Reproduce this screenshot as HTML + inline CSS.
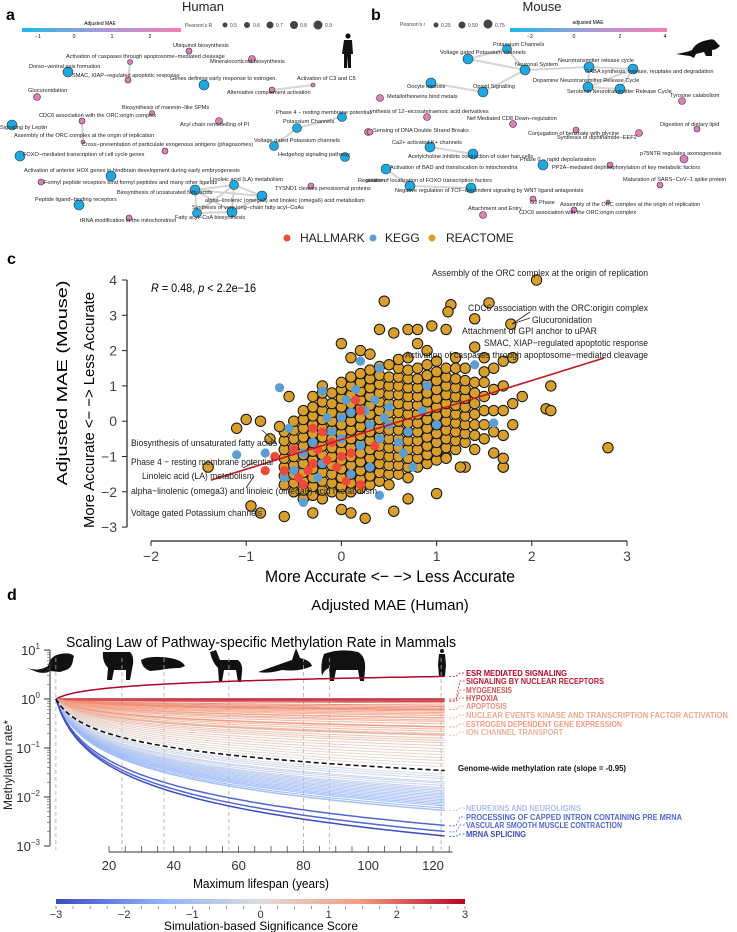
<!DOCTYPE html>
<html><head><meta charset="utf-8">
<style>
body{margin:0;background:#fff;}
svg{display:block;font-family:"Liberation Sans",sans-serif;}
.n{font-family:"Liberation Sans Narrow","Liberation Sans",sans-serif;}
</style></head>
<body>
<svg id="fig" width="737" height="932" viewBox="0 0 737 932">
<defs>
<linearGradient id="gA" x1="0" x2="1"><stop offset="0" stop-color="#1fb8ea"/><stop offset="0.5" stop-color="#a79bd6"/><stop offset="1" stop-color="#f47fb3"/></linearGradient>
<linearGradient id="gD" x1="0" x2="1"><stop offset="0" stop-color="#3b4cc0"/><stop offset="0.25" stop-color="#8db0fe"/><stop offset="0.5" stop-color="#dddddd"/><stop offset="0.75" stop-color="#f49a7b"/><stop offset="1" stop-color="#b40426"/></linearGradient>
</defs>
<g id="pa">
<text x="6" y="20" font-size="16" font-weight="bold">a</text>
<text x="203" y="11" font-size="13" text-anchor="middle" fill="#222">Human</text>
<text x="100" y="25" font-size="5" text-anchor="middle">Adjusted MAE</text>
<rect x="22" y="28" width="159" height="4" fill="url(#gA)"/>
<g font-size="5" text-anchor="middle"><text x="38" y="38">−1</text><text x="74" y="38">0</text><text x="112" y="38">1</text><text x="150" y="38">2</text></g>
<g font-size="5" fill="#444">
<text x="185" y="27">Pearson's R</text>
<circle cx="225" cy="25" r="2.5"/><text x="230" y="27">0.5</text>
<circle cx="247" cy="25" r="3"/><text x="253" y="27">0.6</text>
<circle cx="270" cy="25" r="3.5"/><text x="276" y="27">0.7</text>
<circle cx="294" cy="25" r="4"/><text x="300" y="27">0.8</text>
<circle cx="318" cy="25" r="4.5"/><text x="325" y="27">0.9</text>
</g>
<g fill="#111">
<circle cx="348" cy="36" r="2.6"/><path d="M344 40 L352 40 L353 54 L351 54 L351 68 L348 68 L348 56 L347 68 L344 68 L344 54 L342 54 Z"/>
</g>
<g id="netA"></g>
</g>
<g id="pb">
<text x="371" y="20" font-size="16" font-weight="bold">b</text>
<text x="542" y="11" font-size="13" text-anchor="middle" fill="#222">Mouse</text>
<text x="588" y="24" font-size="5" text-anchor="middle">adjusted MAE</text>
<rect x="510" y="28" width="157" height="4" fill="url(#gA)"/>
<g font-size="5" text-anchor="middle"><text x="530" y="38">−2</text><text x="574" y="38">0</text><text x="620" y="38">2</text><text x="665" y="38">4</text></g>
<g font-size="5" fill="#444">
<text x="400" y="26">Pearson's r</text>
<circle cx="436" cy="25" r="2.5"/><text x="441" y="27">0.25</text>
<circle cx="462" cy="25" r="3.5"/><text x="468" y="27">0.50</text>
<circle cx="488" cy="24" r="4.5"/><text x="495" y="27">0.75</text>
</g>
<g fill="#111">
<path d="M676 54 Q688 52 692 50 Q696 42 708 40 Q714 38 716 42 L720 46 Q716 50 712 50 L712 56 L706 56 L704 52 L696 54 L694 58 L690 56 Q682 55 676 54 Z"/>
</g>
<g id="netB"></g>
</g>
<g font-size="12" fill="#222">
<circle cx="287" cy="238" r="3.5" fill="#f0493a"/><text x="300" y="242">HALLMARK</text>
<circle cx="373" cy="238" r="3.5" fill="#5e9dd0"/><text x="385" y="242">KEGG</text>
<circle cx="432" cy="238" r="3.5" fill="#dba030"/><text x="446" y="242">REACTOME</text>
</g>
<g id="pc">
<text x="7" y="264" font-size="16" font-weight="bold">c</text>
<g id="cAxes"></g>
<g id="cPts"></g>
<g id="cAnn"></g>
</g>
<g id="pd">
<text x="7" y="600" font-size="16" font-weight="bold">d</text>
<text x="390" y="610" font-size="15" text-anchor="middle">Adjusted MAE (Human)</text>
<text x="66" y="647" font-size="15" textLength="390" lengthAdjust="spacingAndGlyphs">Scaling Law of Pathway-specific Methylation Rate in Mammals</text>
<g fill="#111">
<path d="M28 668 Q38 672 48 666 Q50 656 60 654 Q70 652 74 656 L73 660 Q72 668 66 670 L60 672 L50 671 Q42 676 28 668 Z"/>
<path d="M103 652 L130 652 Q134 656 133 664 L130 680 L126 680 L126 670 L114 670 L112 680 L107 680 L108 668 Q102 662 103 652 Z"/>
<path d="M141 660 Q150 655 170 658 Q182 660 185 666 L180 668 Q170 668 160 670 L150 671 Q142 668 141 660 Z"/>
<path d="M210 652 L216 650 L220 660 L238 660 Q243 664 242 672 L241 682 L238 682 L236 670 L224 670 L222 682 L219 682 L218 668 Q212 662 210 652 Z"/>
<path d="M258 672 Q280 664 292 660 L296 648 L300 658 Q310 660 312 666 Q300 672 282 670 Q268 674 258 672 Z"/>
<path d="M324 654 Q340 648 358 652 Q366 656 365 670 L364 681 L360 681 L358 670 L336 670 L334 681 L330 681 L329 668 Q324 670 322 676 Q320 664 324 654 Z"/>
<circle cx="442" cy="651" r="2"/><path d="M439 654 L445 654 L446 665 L445 676 L439 676 L438 665 Z"/>
</g>
<g id="dAxes"></g>
<g id="dLines"></g>
<g id="dLabels"></g>
<rect x="56" y="899" width="409" height="5" fill="url(#gD)"/>
<g id="cbTicks"></g>
<text x="261" y="930" font-size="12" text-anchor="middle" textLength="194" lengthAdjust="spacingAndGlyphs">Simulation-based Significance Score</text>
</g>
</svg>
<script>
const NS="http://www.w3.org/2000/svg";
function mk(parent,tag,attrs,text){const e=document.createElementNS(NS,tag);for(const k in attrs)e.setAttribute(k,attrs[k]);if(text!==undefined)e.textContent=text;parent.appendChild(e);return e;}
const PINK="#e07fb5",BLUE="#1fa9e3";

const aNames=["Ubiquinol biosynthesis","Activation of caspases through apoptosome−mediated cleavage","Mineralocorticoid biosynthesis","Dorso−ventral axis formation","SMAC, XIAP−regulated apoptotic response","Genes defining early response to estrogen.","Activation of C3 and C5","Alternative complement activation","Glucuronidation","Biosynthesis of maresin−like SPMs","CDC6 association with the ORC:origin complex","Acyl chain remodelling of PI","Phase 4 − resting membrane potential","Signaling by Leptin","Potassium Channels","Assembly of the ORC complex at the origin of replication","Cross−presentation of particulate exogenous antigens (phagosomes)","Voltage gated Potassium channels","Hedgehog signaling pathway","FOXO−mediated transcription of cell cycle genes","Activation of anterior HOX genes in hindbrain development during early embryogenesis","Formyl peptide receptors bind formyl peptides and many other ligands","Linoleic acid (LA) metabolism","TYSND1 cleaves peroxisomal proteins","Biosynthesis of unsaturated fatty acids","alpha−linolenic (omega3) and linoleic (omega6) acid metabolism","Peptide ligand−binding receptors","Synthesis of very long−chain fatty acyl−CoAs","Fatty acyl−CoA biosynthesis","tRNA modification in the mitochondrion","Regulation"];
const aNodeX=[189,130,252,68,128,204,313,272,37,152,82,219,342,12,297,83,165,274,345,20,111,41,234,311,195,262,79,232,197,129,368];
const aNodeY=[51,62,59,72,80,85,85,90,97,113,121,121,117,125,128,142,151,146,157,156,176,182,185,186,190,196,205,212,213,218,132];
const aNodeR=[3,2.5,3.5,5,3,5,2,3,3.5,2.5,3,3.5,4.5,5,4.5,2,3,4.5,4.5,5,5,3,4.5,3,5,5,5,5,4.5,3,3.5];
const aNodeMAE=[2,2,2,-1,2,-1,2,2,2,2,2,2,-1,-1,-1,2,2,-1,-1,-1,-1,2,-1,2,-1,-1,-1,-1,-1,2,2];
const aLabX=[173,66,210,29,72,170,297,227,28,122,39,180,276,0,283,14,82,254,278,23,24,44,210,275,117,205,35,192,175,80,358];
const aLabY=[47,58,63,68,77,80,80,94,92,109,117,126,114,129,123,137,146,142,156,156,172,184,181,190,194,202,201,209,219,222,182];
const aEdges=[[1,4],[10,15],[7,6],[14,17],[14,12],[24,22],[24,25],[24,27],[24,28],[22,25],[22,27],[25,27],[27,28],[22,28]];

const bNames=["Potassium Channels","Voltage gated Potassium channels","Neuronal System","Neurotransmitter release cycle","GABA synthesis, release, reuptake and degradation","Oocyte meiosis","Opioid Signalling","Dopamine Neurotransmitter Release Cycle","Serotonin Neurotransmitter Release Cycle","Tyrosine catabolism","Metallothioneins bind metals","ynthesis of 12−eicosatetraenoic acid derivatives","Nef Mediated CD8 Down−regulation","Sensing of DNA Double Strand Breaks","Conjugation of benzoate with glycine","Synthesis of diphthamide−EEF2","Digestion of dietary lipid","Ca2+ activated K+ channels","Acetylcholine inhibits contraction of outer hair cells","Phase 0 − rapid depolarisation","p75NTR regulates axonogenesis","PP2A−mediated dephosphorylation of key metabolic factors","Activation of BAD and translocation to mitochondria","Maturation of SARS−CoV−1 spike protein","ulation of localization of FOXO transcription factors","Negative regulation of TCF−dependent signaling by WNT ligand antagonists","G2 Phase","Assembly of the ORC complex at the origin of replication","CDC6 association with the ORC:origin complex","Attachment and Entry","TCF node"];
const bNodeX=[507,468,525,589,633,431,483,588,620,682,380,427,513,370,576,639,697,430,473,543,684,610,386,660,0,471,533,608,574,483,410];
const bNodeY=[49,59,70,67,69,83,92,87,89,101,98,117,124,132,130,133,129,147,154,165,159,165,169,185,0,188,199,202,210,215,186];
const bNodeR=[4.5,5,5,5,5,5,5,5,5,3.5,3.5,3.5,3.5,3,3,3.5,3,5,5,5,4,3,5,3,0,5,3,2,3,3.5,5];
const bNodeMAE=[-2,-2,-2,-2,-2,-2,-2,-2,-2,3,3,3,3,3,3,3,3,-2,-2,-2,3,3,-2,3,0,-2,3,3,3,3,-2];
const bLabX=[493,440,515,558,585,407,473,533,567,670,387,370,467,373,528,557,660,392,408,520,640,552,390,623,366,395,530,560,519,468,-99];
const bLabY=[46,54,66,62,73,88,88,82,93,97,98,113,120,132,135,139,126,144,158,161,155,169,169,181,182,192,204,206,214,210,0];
const bEdges=[[0,1],[1,2],[0,2],[2,6],[6,5],[2,3],[3,4],[3,7],[7,8],[8,4],[7,4],[17,18],[22,30],[30,25]];

function drawNet(gid,prefix,names,nx,ny,nr,mae,lx,ly,edges){
  const g=document.getElementById(gid);
  edges.forEach(e=>{const l=mk(g,"line",{x1:nx[e[0]],y1:ny[e[0]],x2:nx[e[1]],y2:ny[e[1]],stroke:"#d4d4d4","stroke-width":2});
    
    });
  names.forEach((n,i)=>{ if(nr[i]>0){const c=mk(g,"circle",{cx:nx[i],cy:ny[i],r:nr[i],fill:mae[i]<0?BLUE:PINK,stroke:"#333","stroke-width":0.6});
    
    }});
  names.forEach((n,i)=>{ if(lx[i]>-50){const t=mk(g,"text",{x:lx[i],y:ly[i],"font-size":5.6,fill:"#222"},n);
    
    }});
}
drawNet("netA","human-network",aNames,aNodeX,aNodeY,aNodeR,aNodeMAE,aLabX,aLabY,aEdges);
drawNet("netB","mouse-network",bNames,bNodeX,bNodeY,bNodeR,bNodeMAE,bLabX,bLabY,bEdges);

// ---------- panel c scatter ----------
const xTicks=[-2,-1,0,1,2,3];
const yTicks=[-3,-2,-1,0,1,2,3,4];
const reactCols=[-0.6,-0.5,-0.4,-0.3,-0.2,-0.1,0.0,0.1,0.2,0.3,0.4,0.5,0.6,0.7,0.8,0.9,1.0,1.1,1.2,1.3,1.4,1.5,1.6,1.7,1.8];
const reactColY=[
[-1.8,-1.55,-1.3,-1.05,-0.8,-0.55,-0.3],
[-2.0,-1.75,-1.5,-1.25,-1.0,-0.75,-0.5,-0.25,0.0],
[-2.2,-1.95,-1.7,-1.45,-1.2,-0.95,-0.7,-0.45,-0.2,0.05,0.3],
[-2.1,-1.85,-1.6,-1.35,-1.1,-0.85,-0.6,-0.35,-0.1,0.15,0.4,0.7],
[-2.2,-1.95,-1.7,-1.45,-1.2,-0.95,-0.7,-0.45,-0.2,0.05,0.3,0.55,0.8,1.0],
[-2.0,-1.75,-1.5,-1.25,-1.0,-0.75,-0.5,-0.25,0.0,0.25,0.5,0.8],
[-2.1,-1.85,-1.6,-1.35,-1.1,-0.85,-0.6,-0.35,-0.1,0.15,0.4,0.65,0.9,1.1,2.2],
[-2.0,-1.75,-1.5,-1.25,-1.0,-0.75,-0.5,-0.25,0.0,0.25,0.5,0.75,1.0,1.25,1.8],
[-1.9,-1.65,-1.4,-1.15,-0.9,-0.65,-0.4,-0.15,0.1,0.35,0.6,0.85,1.1,1.35,2.0],
[-1.8,-1.55,-1.3,-1.05,-0.8,-0.55,-0.3,-0.05,0.2,0.45,0.7,0.95,1.2,1.45,1.9],
[-1.7,-1.45,-1.2,-0.95,-0.7,-0.45,-0.2,0.05,0.3,0.55,0.8,1.05,1.3,1.55],
[-1.8,-1.5,-1.25,-1.0,-0.75,-0.5,-0.25,0.0,0.25,0.5,0.75,1.0,1.25,1.6],
[-1.5,-1.25,-1.0,-0.75,-0.5,-0.25,0.0,0.25,0.5,0.75,1.0,1.25,1.5,1.75],
[-1.6,-1.3,-1.05,-0.8,-0.55,-0.3,-0.05,0.2,0.45,0.7,0.95,1.2,1.45,1.8,2.6],
[-1.3,-1.05,-0.8,-0.55,-0.3,-0.05,0.2,0.45,0.7,0.95,1.2,1.5,2.2],
[-1.2,-0.95,-0.7,-0.45,-0.2,0.05,0.3,0.55,0.8,1.05,1.3,1.6,2.0],
[-1.1,-0.85,-0.6,-0.35,-0.1,0.15,0.4,0.65,0.9,1.15,1.4,1.7],
[-1.0,-0.75,-0.5,-0.25,0.0,0.25,0.5,0.75,1.0,1.25,1.5,2.6],
[-0.8,-0.55,-0.3,-0.05,0.2,0.45,0.7,0.95,1.2,1.5,1.8],
[-1.3,-0.6,-0.35,-0.1,0.15,0.4,0.65,0.9,1.15,1.5],
[-0.8,-0.4,-0.1,0.2,0.5,0.8,1.1,2.1],
[-0.5,-0.1,0.3,0.7,1.1,1.4,1.8],
[-0.9,-0.3,0.3,0.9,1.5],
[-1.3,-0.4,0.3,1.0,1.7],
[-0.1,0.5,1.8]];
const reactOutX=[-1.1,-1.0,-0.85,-0.65,-1.4,-0.95,-0.6,-0.85,0.45,1.15,1.55,2.05,1.4,1.78,0.4,0.55,0.8,2.2,1.9,2.15,2.2,2.8,0.1,0.25,0.55,0.0,1.0,0.7,-0.3,1.7,1.7,1.1,1.25,1.12,0.95,-0.55,-0.75];
const reactOutY=[-0.2,0.05,0.0,-0.15,-1.3,-2.4,-2.7,-2.6,3.4,3.3,3.35,4.0,2.9,2.75,2.6,2.5,2.6,1.0,0.7,0.35,0.3,-0.75,-2.6,-2.75,-2.55,-2.5,-2.05,-2.2,-2.6,-1.3,-1.05,-1.05,-1.3,3.1,2.7,0.7,-0.5];
const keggX=[-1.1,-0.8,-0.65,0.2,0.9,-0.2,0.35,0.5,0.25,0.1,-0.1,0.0,-0.3,-0.4,0.2,0.4,0.6,0.7,-0.5,-0.2,0.1,0.3,-0.4,0.4,0.75,1.0,1.6,1.4,0.15,0.4,-0.6,0.0,0.5,-0.15,0.3,0.85,-0.55,0.05,0.45,0.65,-0.25];
const keggY=[-0.95,-0.9,0.95,1.7,1.0,0.85,0.6,0.4,0.3,0.25,-0.3,-0.5,-0.6,-0.9,-0.7,-0.5,-0.6,-0.3,-1.4,-1.2,-1.5,-1.3,-2.3,-2.1,-1.3,-0.1,-0.05,1.6,0.9,1.5,-1.6,0.1,-0.1,0.1,-0.1,0.3,-0.2,0.6,0.1,-0.9,-1.6];
const hallX=[-0.5,-0.3,-0.35,-0.2,-0.1,0.0,0.15,0.2,-0.05,-0.45,-0.6,-0.3,0.1,-0.15,-0.25,0.05,-0.4,0.2,-0.8,0.35,-0.7];
const hallY=[-0.8,-1.2,-1.4,-0.3,-0.6,-1.0,0.6,0.3,-1.3,-1.6,-1.4,-0.2,-0.9,-1.1,-0.8,-1.7,-1.8,-1.8,-1.4,-0.7,-1.0];
const fitX=[-1.37,2.76];
const fitY=[-1.67,1.79];

const cx=v=>151+(v+2)*95.2;
const cy=v=>280+(4-v)*35.3;
(function(){
 const g=document.getElementById("cAxes");
 const ya=mk(g,"line",{x1:127,y1:cy(4),x2:127,y2:cy(-3),stroke:"#222","stroke-width":1.2});
 
 
 yTicks.forEach(t=>{mk(g,"line",{x1:122,y1:cy(t),x2:127,y2:cy(t),stroke:"#222"});
   const tx=mk(g,"text",{x:117,y:cy(t)+5,"font-size":14,"text-anchor":"end",fill:"#444"},t<0?"−"+(-t):String(t));
   
   });
 const xa=mk(g,"line",{x1:cx(-2),y1:541,x2:cx(3),y2:541,stroke:"#222","stroke-width":1.2});
 
 
 xTicks.forEach(t=>{mk(g,"line",{x1:cx(t),y1:541,x2:cx(t),y2:546,stroke:"#222"});
   const tx=mk(g,"text",{x:cx(t),y:561,"font-size":14,"text-anchor":"middle",fill:"#444"},t<0?"−"+(-t):String(t));
   
   });
 const xt=mk(g,"text",{x:390,y:582,"font-size":17,"text-anchor":"middle",textLength:250,lengthAdjust:"spacingAndGlyphs"},"More Accurate <− −> Less Accurate");
 
 
 const yt1=mk(g,"text",{x:0,y:0,"font-size":15,"text-anchor":"middle",transform:"translate(67,383) rotate(-90)",textLength:205,lengthAdjust:"spacingAndGlyphs"},"Adjusted MAE (Mouse)");
 
 
 const yt2=mk(g,"text",{x:0,y:0,"font-size":15,"text-anchor":"middle",transform:"translate(94,410) rotate(-90)",textLength:236,lengthAdjust:"spacingAndGlyphs"},"More Accurate <− −> Less Accurate");
 
 
 const rt=mk(g,"text",{x:151,y:292,"font-size":12,textLength:105,lengthAdjust:"spacingAndGlyphs"});
 rt.innerHTML='<tspan font-style="italic">R</tspan> = 0.48, <tspan font-style="italic">p</tspan> &lt; 2.2e−16';
 
 
 const p=document.getElementById("cPts");
 reactCols.forEach((x,i)=>reactColY[i].forEach(y=>{const c=mk(p,"circle",{cx:cx(x),cy:cy(y),r:5.2,fill:"#d99f2c",stroke:"#111","stroke-width":1});
   
   }));
 reactOutX.forEach((x,i)=>{const c=mk(p,"circle",{cx:cx(x),cy:cy(reactOutY[i]),r:5.2,fill:"#d99f2c",stroke:"#111","stroke-width":1});
   
   });
 keggX.forEach((x,i)=>{const c=mk(p,"circle",{cx:cx(x),cy:cy(keggY[i]),r:4.6,fill:"#5e9dd0"});
   
   });
 hallX.forEach((x,i)=>{const c=mk(p,"circle",{cx:cx(x),cy:cy(hallY[i]),r:4.6,fill:"#f0493a"});
   
   });
 const fl=mk(p,"line",{x1:cx(fitX[0]),y1:cy(fitY[0]),x2:cx(fitX[1]),y2:cy(fitY[1]),stroke:"#c4161c","stroke-width":1.6});
 
 
})();
const annText=["Assembly of the ORC complex at the origin of replication","CDC6 association with the ORC:origin complex","Glucuronidation","Attachment of GPI anchor to uPAR","SMAC, XIAP−regulated apoptotic response","Activation of caspases through apoptosome−mediated cleavage","Biosynthesis of unsaturated fatty acids","Phase 4 − resting membrane potential","Linoleic acid (LA) metabolism","alpha−linolenic (omega3) and linoleic (omega6) acid metabolism","Voltage gated Potassium channels"];
const annX=[432,468,532,462,484,405,131,131,142,131,131];
const annY=[276,311,323,334,346,358,446,465,479,494,516];
const annW=[216,180,60,135,164,243,146,142,112,246,131];
(function(){
 const g=document.getElementById("cAnn");
 annText.forEach((t,i)=>{const e=mk(g,"text",{x:annX[i],y:annY[i],"font-size":9.5,fill:"#222",textLength:annW[i],lengthAdjust:"spacingAndGlyphs"},t);
  
  });
 [[512,324,530,312],[512,324,530,318],[277,444,262,430],[255,462,243,468],[254,476,246,488]].forEach(s=>{
  const l=mk(g,"line",{x1:s[0],y1:s[1],x2:s[2],y2:s[3],stroke:"#222","stroke-width":0.8});
  
  });
})();

// ---------- panel d ----------
const decadeTicks=[1,0,-1,-2,-3];
const lifeTicks=[20,40,60,80,100,120];
const speciesLifespans=[3.6,24,37,57,80,88,122.5];
const lineSlopes=[-0.05,-0.08,-0.1,-0.12,-0.16,-0.18,-0.2,-0.22,-0.28,-0.3,-0.33,-0.4,-0.43,-0.46,-0.52,-0.55,-0.58,-0.62,-0.66,-0.7,-0.74,-0.78,-0.82,-0.86,-0.9,-1.0,-1.03,-1.06,-1.1,-1.12,-1.15,-1.18,-1.2,-1.22,-1.24,-1.26,-1.28,-1.3,-1.32,-1.34,-1.36,-1.38,-1.4,-1.42,-1.45];
const lineScores=[1.9,1.8,1.75,1.7,1.6,1.5,1.45,1.4,1.3,1.2,1.15,1.0,0.95,0.9,0.8,0.75,0.7,0.6,0.5,0.45,0.4,0.3,0.25,0.2,0.1,-0.3,-0.35,-0.4,-0.5,-0.55,-0.6,-0.7,-0.75,-0.8,-0.85,-0.9,-0.95,-1.0,-1.05,-1.1,-1.15,-1.2,-1.3,-1.4,-1.6];
const namedLabels=["ESR MEDIATED SIGNALING","SIGNALING BY NUCLEAR RECEPTORS","MYOGENESIS","HYPOXIA","APOPTOSIS","NUCLEAR EVENTS KINASE AND TRANSCRIPTION FACTOR ACTIVATION","ESTROGEN DEPENDENT GENE EXPRESSION","ION CHANNEL TRANSPORT","NEUREXINS AND NEUROLIGINS","PROCESSING OF CAPPED INTRON CONTAINING PRE MRNA","VASCULAR SMOOTH MUSCLE CONTRACTION","MRNA SPLICING"];
const namedSlopes=[0.30,0.0,-0.02,-0.03,-0.14,-0.25,-0.37,-0.48,-1.48,-1.68,-1.76,-1.82];
const namedScores=[3,2.8,2.2,2.3,1.6,1.2,1.5,1.0,-1.0,-2.6,-2.6,-3];
const genomeSlope=-0.95;
const L0=3.6, Lmax=125;
const dx=L=>109+(L-20)*3.24;
const dy=lg=>699-lg*49;
function scoreColor(s){
 const stops=[[-3,[59,76,192]],[-1.5,[141,176,254]],[0,[221,221,221]],[1.5,[244,154,123]],[3,[180,4,38]]];
 s=Math.max(-3,Math.min(3,s));
 for(let i=0;i<4;i++){const a=stops[i],b=stops[i+1];if(s<=b[0]){const t=(s-a[0])/(b[0]-a[0]);return "rgb("+a[1].map((v,k)=>Math.round(v+(b[1][k]-v)*t)).join(",")+")";}}
 return "rgb(180,4,38)";}
function curve(s){let d="";for(let L=L0;L<=Lmax+0.01;L+=1.5){const lg=s*Math.log10(L/L0);d+=(d?"L":"M")+dx(L).toFixed(1)+" "+dy(lg).toFixed(1);}return d;}
(function(){
 const g=document.getElementById("dAxes");
 const ya=mk(g,"line",{x1:50,y1:dy(1),x2:50,y2:dy(-3),stroke:"#333"});
 
 
 decadeTicks.forEach(k=>{mk(g,"line",{x1:44,y1:dy(k),x2:50,y2:dy(k),stroke:"#333"});
  if(k>-3){for(let m=2;m<10;m++){const yy=dy(k-1+Math.log10(m));mk(g,"line",{x1:47,y1:yy,x2:50,y2:yy,stroke:"#555","stroke-width":0.6});}}
  const t=mk(g,"text",{x:40,y:dy(k)+5,"font-size":13,"text-anchor":"end",fill:"#333"});
  t.innerHTML='10<tspan dy="-6" font-size="8">'+(k<0?"−"+(-k):k)+'</tspan>';
  
  });
 const yt=mk(g,"text",{x:0,y:0,"font-size":12,"text-anchor":"middle",transform:"translate(12,765) rotate(-90)",fill:"#222"},"Methylation rate*");
 
 
 const xa=mk(g,"line",{x1:dx(20),y1:852,x2:dx(126),y2:852,stroke:"#333"});
 
 
 for(let L=20;L<=125;L+=5){mk(g,"line",{x1:dx(L),y1:846,x2:dx(L),y2:852,stroke:"#333","stroke-width":0.7});}
 lifeTicks.forEach(L=>{const t=mk(g,"text",{x:dx(L),y:870,"font-size":13,"text-anchor":"middle",fill:"#333"},String(L));
  
  });
 const xt=mk(g,"text",{x:261,y:888,"font-size":13,"text-anchor":"middle",textLength:136,lengthAdjust:"spacingAndGlyphs"},"Maximum lifespan (years)");
 
 
 speciesLifespans.forEach(L=>{const l=mk(g,"line",{x1:dx(L),y1:658,x2:dx(L),y2:850,stroke:"#aaa","stroke-width":0.8,"stroke-dasharray":"4 3"});
  
  });
 const cb=document.getElementById("cbTicks");
 for(let s=-3;s<=3.001;s+=0.25){const x=56+(s+3)/6*409;mk(cb,"line",{x1:x,y1:906,x2:x,y2:909,stroke:"#555","stroke-width":0.6});}
 for(let s=-3;s<=3;s++){const t=mk(cb,"text",{x:56+(s+3)/6*409,y:918,"font-size":11,"text-anchor":"middle",fill:"#333"},s<0?"−"+(-s):String(s));
  
  }

 const lg=document.getElementById("dLines");
 lineSlopes.forEach((s,i)=>{const p=mk(lg,"path",{d:curve(s),fill:"none",stroke:scoreColor(lineScores[i]),"stroke-width":1,opacity:0.85});
  
  });
 namedSlopes.forEach((s,i)=>{const p=mk(lg,"path",{d:curve(s),fill:"none",stroke:scoreColor(namedScores[i]),"stroke-width":1.5});
  
  });
 const gw=mk(lg,"path",{d:curve(genomeSlope),fill:"none",stroke:"#111","stroke-width":1.6,"stroke-dasharray":"5 3"});
 
 

 const lb=document.getElementById("dLabels");
 const labY=[676,684,693,701,709,718,727,735,811,820,828,837];
 namedLabels.forEach((n,i)=>{
  const yEnd=dy(namedSlopes[i]*Math.log10(Lmax/L0));
  const c=scoreColor(namedScores[i]);
  const l=mk(lb,"path",{d:"M"+dx(Lmax)+" "+yEnd+" L456 "+yEnd+" L460 "+(labY[i]-3)+" L465 "+(labY[i]-3),fill:"none",stroke:c,"stroke-width":0.8,"stroke-dasharray":"2 1.5"});
  
  
  const t=mk(lb,"text",{x:466,y:labY[i],"font-size":8,"font-weight":"bold",fill:c,textLength:(n.length*4.6).toFixed(0),lengthAdjust:"spacingAndGlyphs"},n);
  
  });
 const gt=mk(lb,"text",{x:458,y:771,"font-size":8,"font-weight":"bold",fill:"#111",textLength:168,lengthAdjust:"spacingAndGlyphs"},"Genome-wide methylation rate (slope = -0.95)");
 
 
})();
</script>
</body></html>
